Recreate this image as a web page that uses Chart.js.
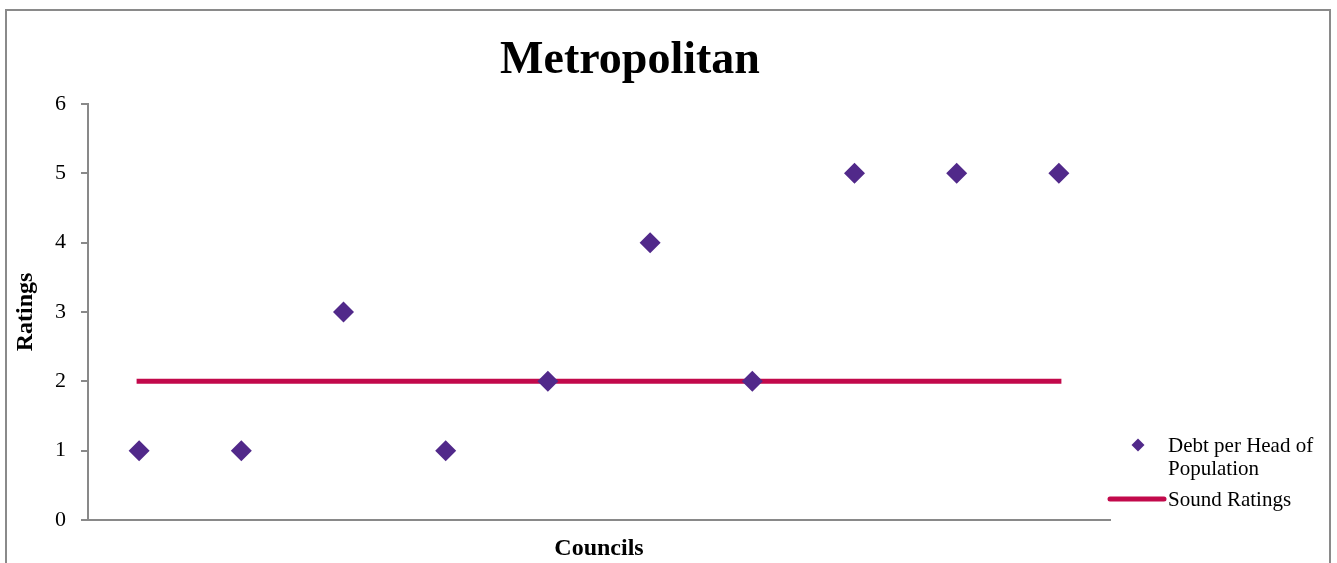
<!DOCTYPE html>
<html>
<head>
<meta charset="utf-8">
<title>Metropolitan</title>
<script src="https://cdn.jsdelivr.net/npm/chart.js@4.4.1/dist/chart.umd.min.js"></script>
<style>
  html, body { margin: 0; padding: 0; background: #ffffff; overflow: hidden; }
  #frame {
    position: absolute; left: 5px; top: 9px; width: 1326px; height: 640px;
    box-sizing: border-box; border: 2px solid #8a8a8a; background: #ffffff;
  }
  #chart { position: absolute; left: 0; top: 0; }
</style>
</head>
<body>
<div id="frame"></div>
<canvas id="chart" width="1337" height="563"></canvas>
<script>
// Councils along the x axis (not labelled on the chart)
const councils = ['1', '2', '3', '4', '5', '6', '7', '8', '9', '10'];
// Debt per head of population rating for each council
const debtRatings = [1, 1, 3, 1, 2, 4, 2, 5, 5, 5];
// Sound rating benchmark
const soundRatings = [2, 2, 2, 2, 2, 2, 2, 2, 2, 2];
// Rating scale
const ratingMin = 0;
const ratingMax = 6;
const ratingStep = 1;

const chartTitle = 'Metropolitan';
const xTitle = 'Councils';
const yTitle = 'Ratings';
const seriesNames = [['Debt per Head of', 'Population'], ['Sound Ratings']];

const SERIF = '"Liberation Serif", "Times New Roman", serif';
const AXIS_GREY = '#898989';
const PURPLE = '#51298a';
const CRIMSON = '#c2094b';

// Chart heading drawn above the plot
const headingPlugin = {
  id: 'heading',
  afterDraw(chart) {
    const ctx = chart.ctx;
    ctx.save();
    ctx.font = 'bold 46px ' + SERIF;
    ctx.fillStyle = '#000000';
    ctx.textAlign = 'center';
    ctx.textBaseline = 'alphabetic';
    ctx.fillText(chartTitle, 630, 73);
    ctx.restore();
  }
};

// Legend to the right of the plot, with a wrapped first entry
const sideLegendPlugin = {
  id: 'sideLegend',
  afterDraw(chart) {
    const ctx = chart.ctx;
    const ds = chart.data.datasets;
    const textX = 1168;
    ctx.save();
    ctx.font = '21px ' + SERIF;
    ctx.textAlign = 'left';
    ctx.textBaseline = 'alphabetic';

    // scatter entry: small diamond
    const cx = 1138, cy = 445, r = 6.5;
    ctx.fillStyle = ds[0].backgroundColor;
    ctx.beginPath();
    ctx.moveTo(cx, cy - r);
    ctx.lineTo(cx + r, cy);
    ctx.lineTo(cx, cy + r);
    ctx.lineTo(cx - r, cy);
    ctx.closePath();
    ctx.fill();
    ctx.fillStyle = '#000000';
    ds[0].label.forEach((line, i) => ctx.fillText(line, textX, 452 + i * 23));

    // line entry
    ctx.strokeStyle = ds[1].borderColor;
    ctx.lineWidth = 5;
    ctx.lineCap = 'round';
    ctx.beginPath();
    ctx.moveTo(1110, 499);
    ctx.lineTo(1164, 499);
    ctx.stroke();
    ds[1].label.forEach((line, i) => ctx.fillText(line, textX, 506 + i * 23));
    ctx.restore();
  }
};

new Chart(document.getElementById('chart'), {
  type: 'line',
  data: {
    labels: councils,
    datasets: [
      {
        label: seriesNames[0],
        data: debtRatings,
        showLine: false,
        pointStyle: 'rectRot',
        pointRadius: 10.5,
        pointBorderWidth: 0,
        backgroundColor: PURPLE,
        borderColor: PURPLE
      },
      {
        label: seriesNames[1],
        data: soundRatings,
        borderColor: CRIMSON,
        backgroundColor: CRIMSON,
        borderWidth: 5,
        borderCapStyle: 'square',
        pointRadius: 0,
        tension: 0,
        fill: false
      }
    ]
  },
  options: {
    responsive: false,
    devicePixelRatio: 1,
    animation: false,
    events: [],
    layout: { padding: { left: 0, top: 104, right: 227, bottom: 0 } },
    plugins: {
      legend: { display: false },
      title: { display: false },
      tooltip: { enabled: false }
    },
    scales: {
      x: {
        type: 'category',
        offset: true,
        ticks: { display: false },
        grid: { display: false, drawTicks: false },
        border: { display: true, color: AXIS_GREY, width: 2 },
        title: {
          display: true, text: xTitle, color: '#000000',
          font: { family: SERIF, size: 24, weight: 'bold' },
          padding: { top: 0, bottom: 0 }
        },
        afterFit(scale) { scale.height = 43; }
      },
      y: {
        min: ratingMin,
        max: ratingMax,
        ticks: {
          stepSize: ratingStep,
          color: '#000000',
          padding: 15,
          font: { family: SERIF, size: 22 }
        },
        grid: {
          drawOnChartArea: false,
          drawTicks: true,
          tickLength: 7,
          color: AXIS_GREY,
          lineWidth: 2
        },
        border: { display: true, color: AXIS_GREY, width: 2 },
        title: {
          display: true, text: yTitle, color: '#000000',
          font: { family: SERIF, size: 24, weight: 'bold' },
          padding: { top: 11, bottom: 0 }
        },
        afterFit(scale) { scale.width = 88; }
      }
    }
  },
  plugins: [headingPlugin, sideLegendPlugin]
});
</script>
</body>
</html>
